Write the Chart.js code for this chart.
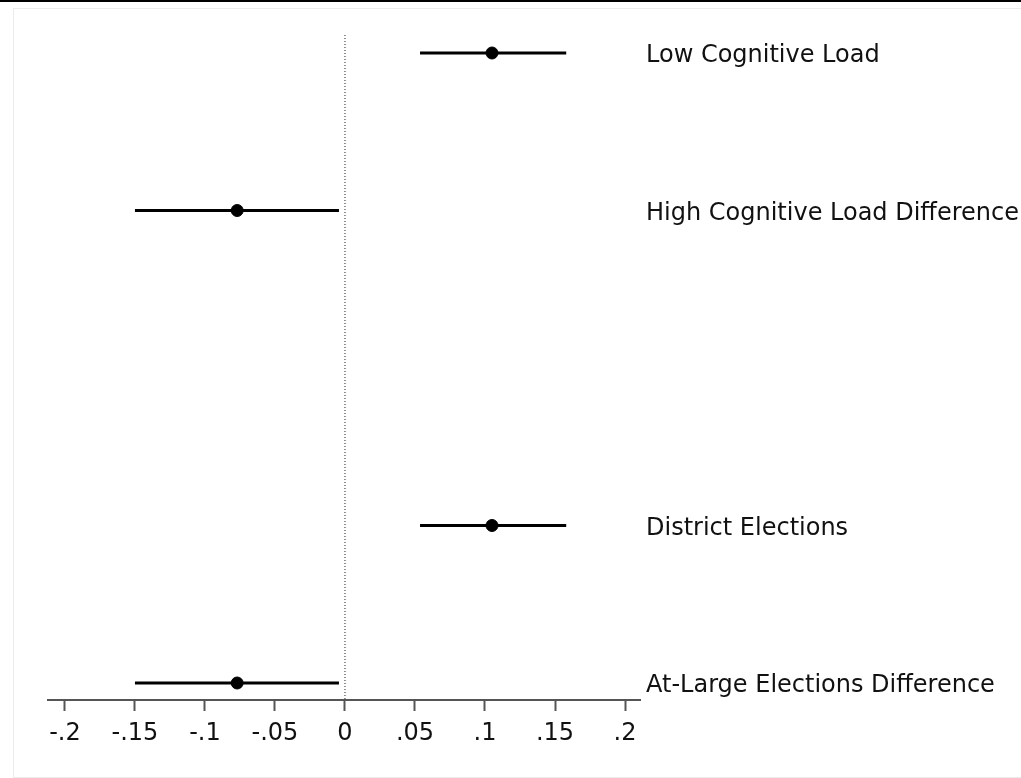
<!DOCTYPE html>
<html>
<head>
<meta charset="utf-8">
<script src="https://cdn.jsdelivr.net/npm/chart.js@4/dist/chart.umd.min.js"></script>
<style>
  body { margin: 0; background: #fff; }
  #wrap { position: relative; width: 1021px; height: 778px; }
  #topline { position: absolute; left: 0; top: 0; width: 1021px; height: 2px; background: #000; }
  #frame { position: absolute; left: 13px; top: 8px; width: 1020px; height: 768px; border: 1px solid #ececec; }
  canvas { position: absolute; left: 0; top: 0; }
</style>
</head>
<body>
<div id="wrap">
  <div id="topline"></div>
  <div id="frame"></div>
  <canvas id="coefplot" width="1021" height="778"></canvas>
</div>
<script>
  // rows (top to bottom), y position leaves a gap between the two pairs
  const labels = ['Low Cognitive Load', 'High Cognitive Load Difference', 'District Elections', 'At-Large Elections Difference'];
  const rowPos = [1, 2, 4, 5];
  const estimates = [0.105, -0.077, 0.105, -0.077];
  const ciLow = [0.0536, -0.150, 0.0536, -0.150];
  const ciHigh = [0.158, -0.0043, 0.158, -0.0043];

  const xTickValues = [-0.2, -0.15, -0.1, -0.05, 0, 0.05, 0.1, 0.15, 0.2];
  const xTickLabels = ['-.2', '-.15', '-.1', '-.05', '0', '.05', '.1', '.15', '.2'];

  const xMin = -0.2121, xMax = 0.2107;
  const yMin = 0.8857, yMax = 5.1079;

  const datasets = [];

  // dotted reference line at zero
  datasets.push({
    type: 'line',
    data: [{x: 0, y: yMin}, {x: 0, y: yMax}],
    borderColor: '#222',
    borderWidth: 1,
    borderDash: [1, 2],
    pointRadius: 0,
    order: 3
  });

  // confidence intervals
  for (let i = 0; i < rowPos.length; i++) {
    datasets.push({
      type: 'line',
      data: [{x: ciLow[i], y: rowPos[i]}, {x: ciHigh[i], y: rowPos[i]}],
      borderColor: '#000',
      borderWidth: 3,
      pointRadius: 0,
      order: 2
    });
  }

  // point estimates
  datasets.push({
    type: 'scatter',
    data: estimates.map((v, i) => ({x: v, y: rowPos[i]})),
    backgroundColor: '#000',
    borderColor: '#000',
    pointRadius: 6,
    order: 1
  });

  const font = {family: 'DejaVu Sans', size: 24};

  new Chart('coefplot', {
    data: {datasets: datasets},
    options: {
      responsive: false,
      animation: false,
      layout: {padding: {left: 48, top: 35, right: 0, bottom: 0}},
      plugins: {legend: {display: false}, tooltip: {enabled: false}},
      scales: {
        x: {
          type: 'linear',
          position: 'bottom',
          min: xMin,
          max: xMax,
          afterBuildTicks: (scale) => { scale.ticks = xTickValues.map(v => ({value: v})); },
          afterFit: (scale) => { scale.height = 78; },
          grid: {drawOnChartArea: false, drawTicks: true, tickLength: 11, tickColor: '#555', tickWidth: 2},
          border: {display: true, color: '#555', width: 2},
          ticks: {
            color: '#111',
            font: font,
            padding: 8,
            maxRotation: 0,
            autoSkip: false,
            callback: (v, i) => xTickLabels[i]
          }
        },
        y: {
          type: 'linear',
          position: 'right',
          min: yMin,
          max: yMax,
          reverse: true,
          afterBuildTicks: (scale) => { scale.ticks = rowPos.map(v => ({value: v})); },
          afterFit: (scale) => { scale.width = 1021 - 640; },
          grid: {display: false, drawTicks: false},
          border: {display: false},
          ticks: {
            color: '#111',
            font: font,
            padding: 6,
            labelOffset: 3,
            autoSkip: false,
            callback: (v) => labels[rowPos.indexOf(v)]
          }
        }
      }
    }
  });
</script>
</body>
</html>
